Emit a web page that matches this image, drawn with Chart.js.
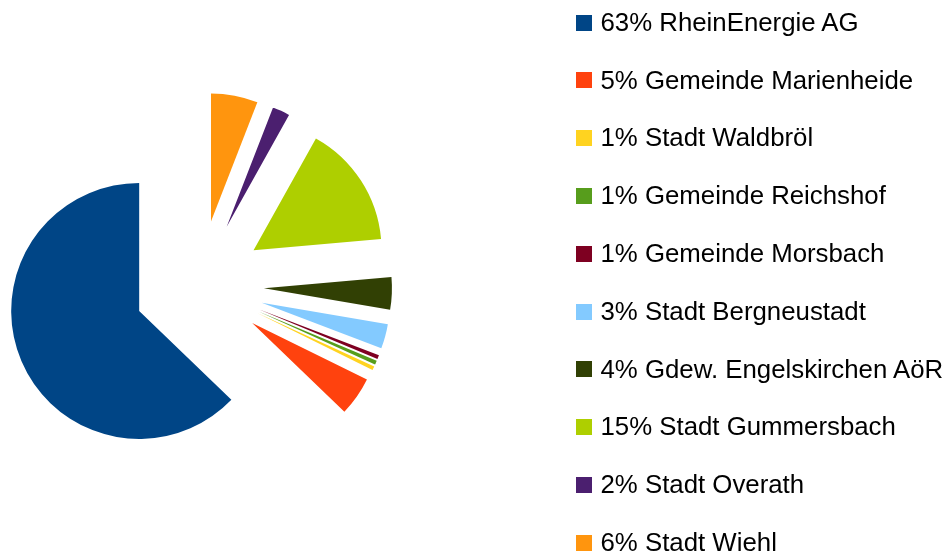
<!DOCTYPE html>
<html>
<head>
<meta charset="utf-8">
<script src="https://cdn.jsdelivr.net/npm/chart.js@4.4.1/dist/chart.umd.min.js"></script>
<style>
  html, body { margin: 0; padding: 0; background: #fff; overflow: hidden; }
  #wrap { position: relative; width: 951px; height: 554px; }
  #pie { position: absolute; left: 0; top: 0; }
  .row { position: absolute; left: 576px; height: 30px; white-space: nowrap;
         font-family: "Liberation Sans", Arial, sans-serif; font-size: 25.8px; line-height: 30px; color: #000; }
  .row .box { position: absolute; left: 0; top: 7.8px; width: 16px; height: 16px; }
  .row .txt { position: absolute; left: 24.5px; top: 0; }
</style>
</head>
<body>
<div id="wrap">
  <canvas id="pie" width="951" height="554"></canvas>
  <div id="legend"></div>
</div>
<script>
// daten in legendenreihenfolge
const categories = ['RheinEnergie AG', 'Gemeinde Marienheide', 'Stadt Waldbröl', 'Gemeinde Reichshof',
  'Gemeinde Morsbach', 'Stadt Bergneustadt', 'Gdew. Engelskirchen AöR', 'Stadt Gummersbach',
  'Stadt Overath', 'Stadt Wiehl']
const shares = [62.8, 4.9, 0.5, 0.5, 0.5, 3.1, 4.1, 15.5, 2.2, 5.9]
const percentLabels = ['63%', '5%', '1%', '1%', '1%', '3%', '4%', '15%', '2%', '6%']
const colors = ['#004586', '#ff420e', '#ffd320', '#579d1c', '#7e0021', '#83caff', '#314004', '#aecf00', '#4b1f6f', '#ff950e']

// alle stuecke gleich weit nach aussen geschoben
const EXPLODE = 65

// legende als html
const legend = document.getElementById('legend')
for (let i = 0; i < categories.length; i++) {
  const row = document.createElement('div')
  row.className = 'row'
  row.style.top = (6.8 + 57.8 * i) + 'px'
  row.innerHTML = '<span class="box" style="background:' + colors[i] + '"></span>' +
    '<span class="txt">' + percentLabels[i] + ' ' + categories[i] + '</span>'
  legend.appendChild(row)
}

// das tortendiagramm laeuft im uhrzeigersinn, die vorlage gegen den uhrzeigersinn
const chartLabels = categories.slice().reverse()
const chartData = shares.slice().reverse()
const chartColors = colors.slice().reverse()

const explodePlugin = {
  id: 'explode',
  beforeDatasetsDraw(chart) {
    chart.getDatasetMeta(0).data.forEach(function (arc) {
      if (arc._exploded) return
      arc._exploded = true
      const baseDraw = arc.draw
      arc.draw = function (ctx) {
        const mid = (this.startAngle + this.endAngle) / 2
        ctx.save()
        ctx.translate(Math.cos(mid) * EXPLODE, Math.sin(mid) * EXPLODE)
        baseDraw.call(this, ctx)
        ctx.restore()
      }
    })
  }
}

new Chart(document.getElementById('pie'), {
  type: 'pie',
  data: {
    labels: chartLabels,
    datasets: [{
      data: chartData,
      backgroundColor: chartColors,
      borderWidth: 0
    }]
  },
  options: {
    responsive: false,
    animation: false,
    radius: 128,
    layout: { padding: { left: 0, top: 17, right: 553, bottom: 0 } },
    plugins: {
      legend: { display: false },
      tooltip: { enabled: false }
    },
    events: []
  },
  plugins: [explodePlugin]
})
</script>
</body>
</html>
